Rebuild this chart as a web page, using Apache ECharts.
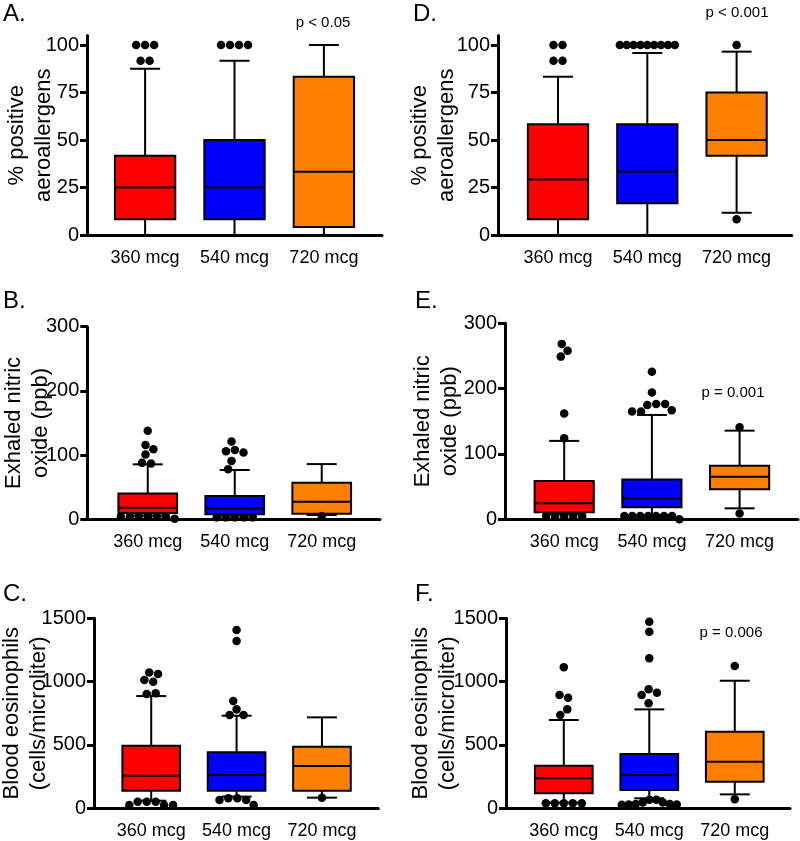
<!DOCTYPE html>
<html><head><meta charset="utf-8">
<script src="https://cdn.jsdelivr.net/npm/echarts@6/dist/echarts.min.js"></script>
<style>html,body{margin:0;padding:0;background:#fff}#c{width:800px;height:841px}</style>
</head><body><div id="c"></div>
<script>
// ---------------- data ----------------
const categories = ['360 mcg', '540 mcg', '720 mcg'];
const groupColors = ['#FF0000', '#0000FF', '#FF8000'];

// each box: [lower whisker, Q1, median, Q3, upper whisker]
const aeroA = [[0, 8.3, 25, 41.7, 87.5], [0, 8.3, 25, 50, 91.7], [0, 4.2, 33.3, 83.3, 100]];
const aeroAOut = [[100, 100, 100, 91.7, 91.7], [100, 100, 100, 100], []];

const fenoB = [[6, 10, 18, 40, 85.6], [6, 7.8, 17, 36.3, 76.8], [6.7, 8.8, 27.5, 57, 86]];
const fenoBOut = [[138, 115.7, 109, 101, 88, 87, 4, 4, 4, 1, 4, 4, 4], [121, 108, 106, 104, 91, 78, 3, 3, 3, 3, 3], [5]];

const eosC = [[60, 139, 257, 494, 886], [92, 139, 263, 442, 731], [84, 139, 334, 486, 718]];
const eosCOut = [[1073, 1060, 1013, 1000, 908, 902, 52, 26, 26, 26, 52, 52], [1407, 1320, 847, 781, 736, 736, 79, 66, 26, 66, 79], [84]];

const aeroD = [[0, 8.3, 29.2, 58.3, 83.3], [0, 16.7, 33.3, 58.3, 95.8], [11.7, 41.7, 50, 75, 96.5]];
const aeroDOut = [[100, 100, 91.7, 91.7], [100, 100, 100, 100, 100, 100, 100, 100, 100], [100, 8.3]];

const fenoE = [[8, 10.7, 24.5, 58.6, 120], [5, 18.4, 32, 61, 159.7], [16.8, 46, 65, 82, 135.7]];
const fenoEOut = [[268.5, 258, 249, 162, 124, 5, 5, 5, 5, 5], [226, 194, 176.5, 175, 165, 165, 167, 176.5, 5, 5, 5, 0, 5, 5, 5, 5], [141, 9]];

const eosF = [[45, 118, 237, 336, 697], [79, 145, 263, 429, 781], [110, 210, 368, 605, 1007]];
const eosFOut = [[1113, 894, 873, 781, 736, 39, 39, 39, 39, 39], [1473, 1394, 1184, 939, 912, 894, 829, 68, 45, 34, 30, 28, 30, 34, 45, 68], [1123, 71]];

const aeroTicks = [0, 25, 50, 75, 100];
const fenoTicks = [0, 100, 200, 300];
const eosTicks = [0, 500, 1000, 1500];

const aeroName = '% positive\naeroallergens';
const fenoName = 'Exhaled nitric\noxide (ppb)';
const eosName = 'Blood eosinophils\n(cells/microliter)';

// ---------------- layout ----------------
const FONT = 'Liberation Sans';
const panels = [
  { letter: 'A.', boxes: aeroA, out: aeroAOut, ticks: aeroTicks, max: 105, name: aeroName, nameGap: 30,
    grid: { left: 87, top: 35.5, width: 295, height: 199.5 }, xr: [-0.65, 2.65], letterPos: [3, 14], p: 'p < 0.05', pPos: [323, 23] },
  { letter: 'B.', boxes: fenoB, out: fenoBOut, ticks: fenoTicks, max: 300, name: fenoName, nameGap: 33,
    grid: { left: 87.3, top: 326.7, width: 292.7, height: 192.6 }, xr: [-0.695, 2.67], letterPos: [3, 301] },
  { letter: 'C.', boxes: eosC, out: eosCOut, ticks: eosTicks, max: 1500, name: eosName, nameGap: 42,
    grid: { left: 94, top: 618.3, width: 284.3, height: 190 }, xr: [-0.67, 2.66], letterPos: [3, 594] },
  { letter: 'D.', boxes: aeroD, out: aeroDOut, ticks: aeroTicks, max: 105, name: aeroName, nameGap: 38,
    grid: { left: 498, top: 35.5, width: 293.7, height: 199.5 }, xr: [-0.672, 2.617], letterPos: [413, 14], p: 'p < 0.001', pPos: [737, 13] },
  { letter: 'E.', boxes: fenoE, out: fenoEOut, ticks: fenoTicks, max: 300, name: fenoName, nameGap: 42,
    grid: { left: 505, top: 323.3, width: 293, height: 196 }, xr: [-0.675, 2.666], letterPos: [415, 301], p: 'p = 0.001', pPos: [733, 393] },
  { letter: 'F.', boxes: eosF, out: eosFOut, ticks: eosTicks, max: 1500, name: eosName, nameGap: 45,
    grid: { left: 506, top: 618.3, width: 284, height: 190 }, xr: [-0.676, 2.646], letterPos: [415, 594], p: 'p = 0.006', pPos: [731, 633] }
];

function renderBox(params, api) {
  const x = api.value(0);
  const unit = api.size([1, 0])[0];
  const bw = unit * 0.675;
  const cw = 30;
  const pts = [1, 2, 3, 4, 5].map(d => api.coord([x, api.value(d)]));
  const cx = pts[0][0];
  const yLo = pts[0][1], yQ1 = pts[1][1], yMed = pts[2][1], yQ3 = pts[3][1], yHi = pts[4][1];
  const ls = { stroke: '#000', lineWidth: 2 };
  return {
    type: 'group', children: [
      { type: 'line', shape: { x1: cx, y1: yQ3, x2: cx, y2: yHi }, style: ls },
      { type: 'line', shape: { x1: cx - cw / 2, y1: yHi, x2: cx + cw / 2, y2: yHi }, style: ls },
      { type: 'line', shape: { x1: cx, y1: yQ1, x2: cx, y2: yLo }, style: ls },
      { type: 'line', shape: { x1: cx - cw / 2, y1: yLo, x2: cx + cw / 2, y2: yLo }, style: ls },
      { type: 'rect', shape: { x: cx - bw / 2, y: yQ3, width: bw, height: yQ1 - yQ3 },
        style: { fill: groupColors[Math.round(x)], stroke: '#000', lineWidth: 2 } },
      { type: 'line', shape: { x1: cx - bw / 2, y1: yMed, x2: cx + bw / 2, y2: yMed }, style: ls }
    ]
  };
}

const chart = echarts.init(document.getElementById('c'), null, { renderer: 'canvas' });

function outlierItems(p, offsets) {
  const items = [];
  p.out.forEach((vals, g) => {
    vals.forEach((v, k) => {
      items.push({ value: [g, v], symbolOffset: [offsets ? offsets[g][k] : 0, 0] });
    });
  });
  return items;
}

const option = {
  animation: false,
  backgroundColor: '#fff',
  textStyle: { fontFamily: FONT },
  grid: panels.map(p => Object.assign({ outerBoundsMode: 'none', containLabel: false }, p.grid)),
  xAxis: panels.map((p, i) => ({
    type: 'value', gridIndex: i, min: p.xr[0], max: p.xr[1],
    splitLine: { show: false }, axisTick: { show: false },
    axisLine: { show: true, onZero: false, lineStyle: { color: '#000', width: 3 } },
    axisLabel: { customValues: [0, 1, 2], formatter: v => categories[Math.round(v)] || '',
      color: '#000', fontSize: 18, fontFamily: FONT, margin: 14 }
  })),
  yAxis: panels.map((p, i) => ({
    type: 'value', gridIndex: i, min: 0, max: p.max,
    splitLine: { show: false },
    axisLine: { show: true, onZero: false, lineStyle: { color: '#000', width: 3 } },
    axisTick: { show: true, customValues: p.ticks, length: 7, lineStyle: { color: '#000', width: 3 } },
    axisLabel: { customValues: p.ticks, formatter: v => String(v), color: '#000', fontSize: 20, fontFamily: FONT, margin: 8 },
    name: p.name, nameLocation: 'middle', nameGap: p.nameGap, nameMoveOverlap: false,
    nameTextStyle: { color: '#000', fontSize: 22, lineHeight: 27, fontFamily: FONT }
  })),
  graphic: [].concat(
    panels.map(p => ({ type: 'text', x: p.letterPos[0], y: p.letterPos[1],
      style: { text: p.letter, fontSize: 24, fontFamily: FONT, fill: '#000', align: 'left', verticalAlign: 'middle' } })),
    panels.filter(p => p.p).map(p => ({ type: 'text', x: p.pPos[0], y: p.pPos[1],
      style: { text: p.p, fontSize: 15, fontFamily: FONT, fill: '#000', align: 'center', verticalAlign: 'middle' } }))
  ),
  series: [].concat(
    panels.map((p, i) => ({
      type: 'custom', id: 'box' + i, xAxisIndex: i, yAxisIndex: i, renderItem: renderBox,
      encode: { x: 0, y: [1, 2, 3, 4, 5] }, z: 2,
      data: p.boxes.map((b, g) => [g].concat(b))
    })),
    panels.map((p, i) => ({
      type: 'scatter', id: 'out' + i, xAxisIndex: i, yAxisIndex: i, symbol: 'circle', symbolSize: 8.5,
      itemStyle: { color: '#000', opacity: 1 }, z: 5, silent: true,
      data: outlierItems(p, null)
    }))
  )
};
chart.setOption(option);

// beeswarm layout of the outlier dots (pixel space)
function swarm(ys, D, maxSpread) {
  const n = ys.length;
  const dx = new Array(n).fill(0);
  if (!n) return dx;
  const order = ys.map((y, i) => i).sort((a, b) => ys[a] - ys[b] || a - b);
  const placed = [];
  let flip = 1;
  for (const i of order) {
    const y = ys[i];
    const iv = [];
    for (const q of placed) {
      const dy = Math.abs(q.y - y);
      if (dy < D) { const w = Math.sqrt(D * D - dy * dy); iv.push([q.x - w, q.x + w]); }
    }
    const cands = [0];
    iv.forEach(([a, b]) => cands.push(a, b));
    const ok = c => iv.every(([a, b]) => c <= a + 1e-6 || c >= b - 1e-6);
    let best = null;
    cands.filter(ok).forEach(c => {
      if (best === null) { best = c; return; }
      const d = Math.abs(c) - Math.abs(best);
      if (d < -1e-6 || (Math.abs(d) <= 1e-6 && Math.sign(c) === flip)) best = c;
    });
    if (Math.abs(best) > 1e-6) flip = -Math.sign(best);
    dx[i] = best;
    placed.push({ x: best, y: y, i: i });
  }
  let cluster = [order[0]];
  const clusters = [];
  for (let k = 1; k < order.length; k++) {
    if (ys[order[k]] - ys[order[k - 1]] < D) cluster.push(order[k]);
    else { clusters.push(cluster); cluster = [order[k]]; }
  }
  clusters.push(cluster);
  clusters.forEach(c => {
    const xs = c.map(i => dx[i]);
    const lo = Math.min.apply(null, xs), hi = Math.max.apply(null, xs);
    const mid = (lo + hi) / 2;
    const ext = hi - lo;
    const s = ext > maxSpread ? maxSpread / ext : 1;
    c.forEach(i => { dx[i] = (dx[i] - mid) * s; });
  });
  return dx;
}

const updates = panels.map((p, i) => {
  const offsets = p.out.map((vals, g) => {
    const ys = vals.map(v => chart.convertToPixel({ gridIndex: i }, [g, v])[1]);
    return swarm(ys, 9, 55);
  });
  return { id: 'out' + i, data: outlierItems(p, offsets) };
});
chart.setOption({ series: updates });
</script>
</body></html>
